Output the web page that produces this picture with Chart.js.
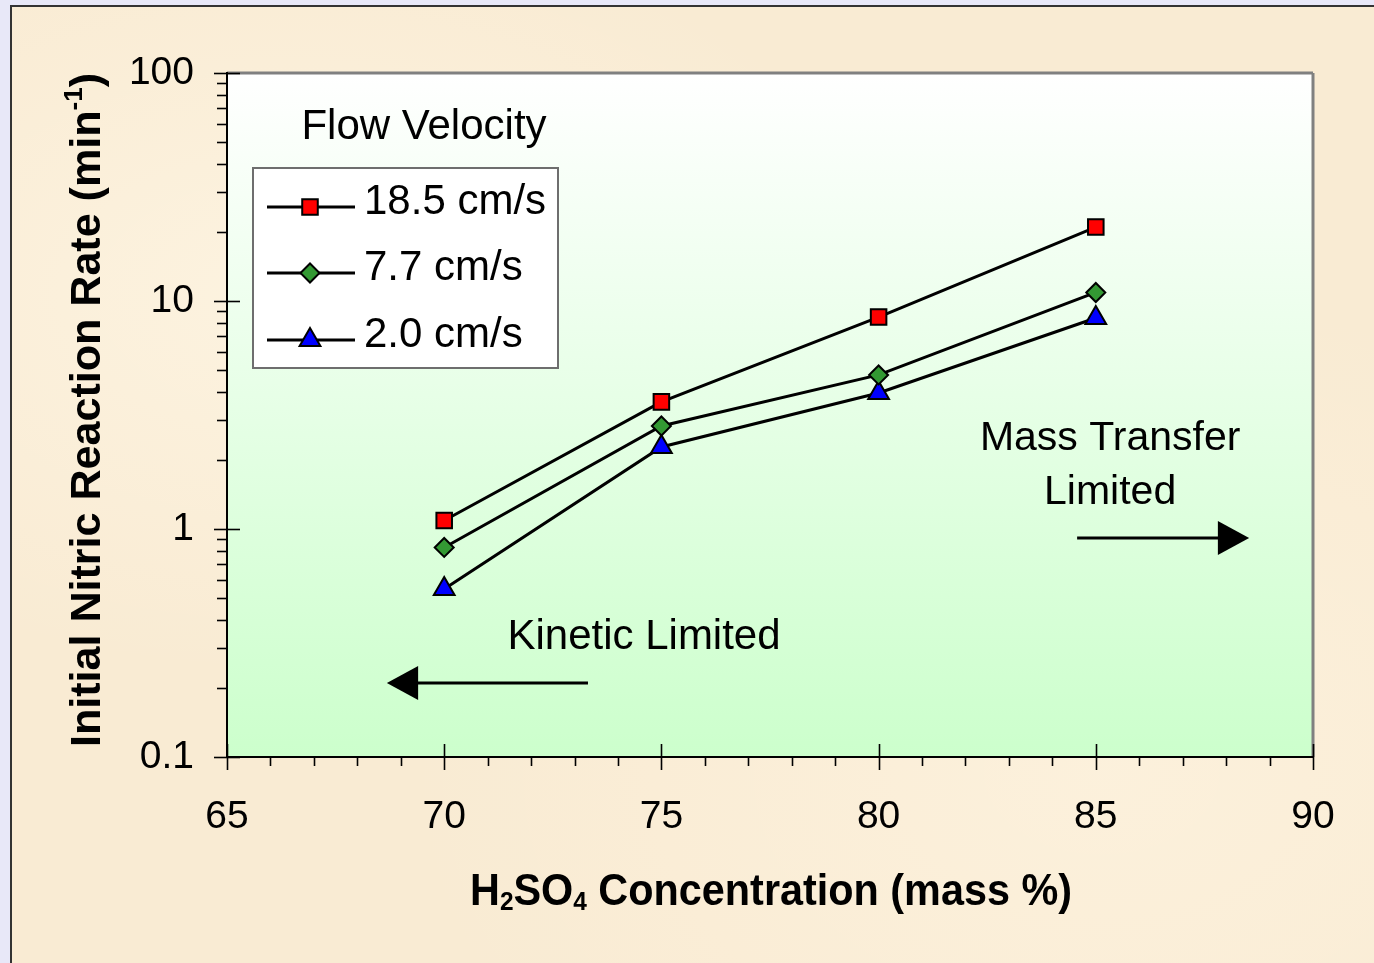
<!DOCTYPE html>
<html><head><meta charset="utf-8">
<script src="https://cdn.jsdelivr.net/npm/chart.js@4"></script>
<style>
html,body{margin:0;padding:0;width:1374px;height:963px;overflow:hidden;background:#e8e8f8;}
#panel{position:absolute;left:10px;top:5px;right:0;bottom:0;background:#f9ebd3;border-left:2px solid #333;border-top:2px solid #333;
 background-image:radial-gradient(ellipse at 20% 30%, rgba(255,248,232,0.6), rgba(255,248,232,0) 40%),radial-gradient(ellipse at 80% 80%, rgba(255,246,228,0.5), rgba(255,246,228,0) 45%);}
#c{position:absolute;left:0;top:0;}
</style></head><body>
<div id="panel"></div>
<canvas id="c" width="1374" height="963"></canvas>
<script>
// ---- data ----
const concentrations = [70, 75, 80, 85];
const rate18_5 = [1.09, 3.61, 8.5, 21.1];
const rate7_7 = [0.83, 2.83, 4.74, 10.9];
const rate2_0 = [0.545, 2.29, 3.95, 8.42];
const seriesLabels = ['18.5 cm/s', '7.7 cm/s', '2.0 cm/s'];
const xTickValues = [65, 70, 75, 80, 85, 90];
const yTickValues = [0.1, 1, 10, 100];
const legendTitle = 'Flow Velocity';
const xTitleRuns = [{t:'H'},{t:'2',s:'sub'},{t:'SO'},{t:'4',s:'sub'},{t:' Concentration (mass %)'}];
const yTitleRuns = [{t:'Initial Nitric Reaction Rate (min'},{t:'-1',s:'sup'},{t:')'}];

const FONT = '"Liberation Sans", Arial, Helvetica, sans-serif';
Chart.defaults.font.family = FONT;
Chart.defaults.color = '#000';

function pts(vals){ return concentrations.map((c,i)=>({x:c, y:vals[i]})); }

function drawRich(ctx, runs, size, bold, targetW){
  const b = bold ? 'bold ' : '';
  const base = b + size + 'px ' + FONT;
  const small = b + Math.round(size*0.6) + 'px ' + FONT;
  let w = 0;
  const items = runs.map(r => { ctx.font = r.s ? small : base; const m = ctx.measureText(r.t).width; w += m; return {t:r.t, s:r.s, w:m}; });
  const sx = targetW ? targetW / w : 1;
  ctx.scale(sx, 1);
  let x = -w/2;
  ctx.textBaseline = 'alphabetic'; ctx.textAlign = 'left'; ctx.fillStyle = '#000';
  for (const it of items){
    ctx.font = it.s ? small : base;
    const dy = it.s === 'sub' ? size*0.12 : (it.s === 'sup' ? -size*0.42 : 0);
    ctx.fillText(it.t, x, dy);
    x += it.w;
  }
}

function line(ctx,x1,y1,x2,y2){ ctx.beginPath(); ctx.moveTo(x1,y1); ctx.lineTo(x2,y2); ctx.stroke(); }

const decorPlugin = {
  id: 'decor',
  beforeDraw(chart){
    const {ctx, chartArea:a} = chart;
    ctx.save();
    const g = ctx.createLinearGradient(0, a.top, 0, a.bottom);
    g.addColorStop(0, '#ffffff');
    g.addColorStop(1, '#ccffcc');
    ctx.fillStyle = g;
    ctx.fillRect(a.left, a.top, a.right - a.left, a.bottom - a.top);
    ctx.restore();
  },
  afterDraw(chart){
    const {ctx, chartArea:a, scales:{x:xs, y:ys}} = chart;
    ctx.save();
    // plot border
    ctx.strokeStyle = '#808080'; ctx.lineWidth = 3;
    line(ctx, a.left, a.top, a.right, a.top);
    line(ctx, a.right, a.top, a.right, a.bottom);
    ctx.strokeStyle = '#000'; ctx.lineWidth = 2;
    line(ctx, a.left, a.top - 1, a.left, a.bottom);
    line(ctx, a.left, a.bottom, a.right + 1, a.bottom);
    // x ticks
    ctx.lineWidth = 1.6;
    xs.ticks.forEach(t => {
      const px = Math.round(xs.getPixelForValue(t.value)) + 0.5;
      if (xTickValues.includes(t.value)) line(ctx, px, a.bottom - 13, px, a.bottom + 13);
      else line(ctx, px, a.bottom, px, a.bottom + 9);
    });
    // y ticks
    yTickValues.forEach((d, i) => {
      const py = Math.round(ys.getPixelForValue(d)) + 0.5;
      line(ctx, a.left - 13, py, a.left + 13, py);
      if (i < yTickValues.length - 1){
        for (let m = 2; m <= 9; m++){
          const pm = Math.round(ys.getPixelForValue(m*d)) + 0.5;
          line(ctx, a.left - 10, pm, a.left, pm);
        }
      }
    });
    // axis titles
    ctx.save(); ctx.translate(771, 905); drawRich(ctx, xTitleRuns, 44, true, 602); ctx.restore();
    ctx.save(); ctx.translate(100, 410); ctx.rotate(-Math.PI/2); drawRich(ctx, yTitleRuns, 43, true, 674); ctx.restore();

    // legend
    ctx.fillStyle = '#ffffff';
    ctx.fillRect(253, 168, 305, 200);
    ctx.strokeStyle = '#6e6e6e'; ctx.lineWidth = 2;
    ctx.strokeRect(253, 168, 305, 200);
    ctx.fillStyle = '#000'; ctx.font = '42px ' + FONT; ctx.textAlign = 'center'; ctx.textBaseline = 'alphabetic';
    ctx.fillText(legendTitle, 424, 139);
    const rows = [207, 273, 340];
    chart.data.datasets.forEach((ds, i) => {
      const y = rows[i];
      ctx.strokeStyle = '#000'; ctx.lineWidth = 3;
      line(ctx, 267, y, 355, y);
      ctx.fillStyle = ds.pointBackgroundColor; ctx.strokeStyle = ds.pointBorderColor; ctx.lineWidth = ds.pointBorderWidth;
      Chart.helpers.drawPoint(ctx, {pointStyle: ds.pointStyle, rotation: 0, radius: ds.pointRadius, borderWidth: ds.pointBorderWidth}, 310, y);
      ctx.fillStyle = '#000'; ctx.font = '42px ' + FONT; ctx.textAlign = 'left'; ctx.textBaseline = 'middle';
      ctx.fillText(ds.label, 364, y - 5);
    });

    // annotations (placed in data coordinates)
    const X = v => xs.getPixelForValue(v), Y = v => ys.getPixelForValue(v);
    ctx.fillStyle = '#000'; ctx.font = '41px ' + FONT; ctx.textAlign = 'center'; ctx.textBaseline = 'alphabetic';
    ctx.fillText('Mass Transfer', X(85.33), Y(2.532) + 13);
    ctx.fillText('Limited', X(85.33), Y(1.483) + 14);
    ctx.font = '42px ' + FONT;
    ctx.fillText('Kinetic Limited', X(74.6), Y(0.3463) + 15);
    // arrows
    ctx.strokeStyle = '#000'; ctx.lineWidth = 3;
    let ay = Math.round(Y(0.913));
    line(ctx, X(84.57), ay, X(87.85), ay);
    ctx.beginPath(); ctx.moveTo(X(88.53), ay); ctx.lineTo(X(87.81), ay - 17); ctx.lineTo(X(87.81), ay + 17); ctx.closePath(); ctx.fill();
    ay = Math.round(Y(0.2112));
    line(ctx, X(73.31), ay, X(69.35), ay);
    ctx.beginPath(); ctx.moveTo(X(68.68), ay); ctx.lineTo(X(69.40), ay - 17); ctx.lineTo(X(69.40), ay + 17); ctx.closePath(); ctx.fill();
    ctx.restore();
  }
};

function ds(label, vals, style, color, r){
  return {label, data: pts(vals), borderColor:'#000', borderWidth:3, tension:0,
    pointStyle: style, pointRadius: r, pointHoverRadius: r, pointBackgroundColor: color,
    pointBorderColor:'#000', pointBorderWidth:2, fill:false};
}

new Chart(document.getElementById('c'), {
  type: 'line',
  data: { datasets: [
    ds(seriesLabels[0], rate18_5, 'rect', '#ff0000', 11),
    ds(seriesLabels[1], rate7_7, 'rectRot', '#339933', 9.5),
    ds(seriesLabels[2], rate2_0, 'triangle', '#0000ff', 12)
  ]},
  plugins: [decorPlugin],
  options: {
    responsive: false, animation: false, devicePixelRatio: 1,
    layout: { padding: { left: 0, top: 73, right: 61, bottom: 0 } },
    plugins: { legend: { display: false }, tooltip: { enabled: false }, title: { display: false } },
    scales: {
      x: { type: 'linear', min: 65, max: 90,
        grid: { display: false, drawTicks: false }, border: { display: false },
        ticks: { stepSize: 1, autoSkip: false, maxRotation: 0, padding: 37,
          font: { size: 39 }, color: '#000',
          callback: v => xTickValues.includes(v) ? String(v) : '' },
        afterFit: s => { s.height = 206; } },
      y: { type: 'logarithmic', min: 0.1, max: 100,
        grid: { display: false, drawTicks: false }, border: { display: false },
        ticks: { padding: 33, font: { size: 39 }, color: '#000', autoSkip: false,
          callback: v => { const l = Math.log10(v); return (Math.abs(l - Math.round(l)) < 1e-9 && yTickValues.some(t => Math.abs(t - v) < 1e-9)) ? String(v) : ''; } },
        afterFit: s => { s.width = 227; } }
    }
  }
});
</script>
</body></html>
